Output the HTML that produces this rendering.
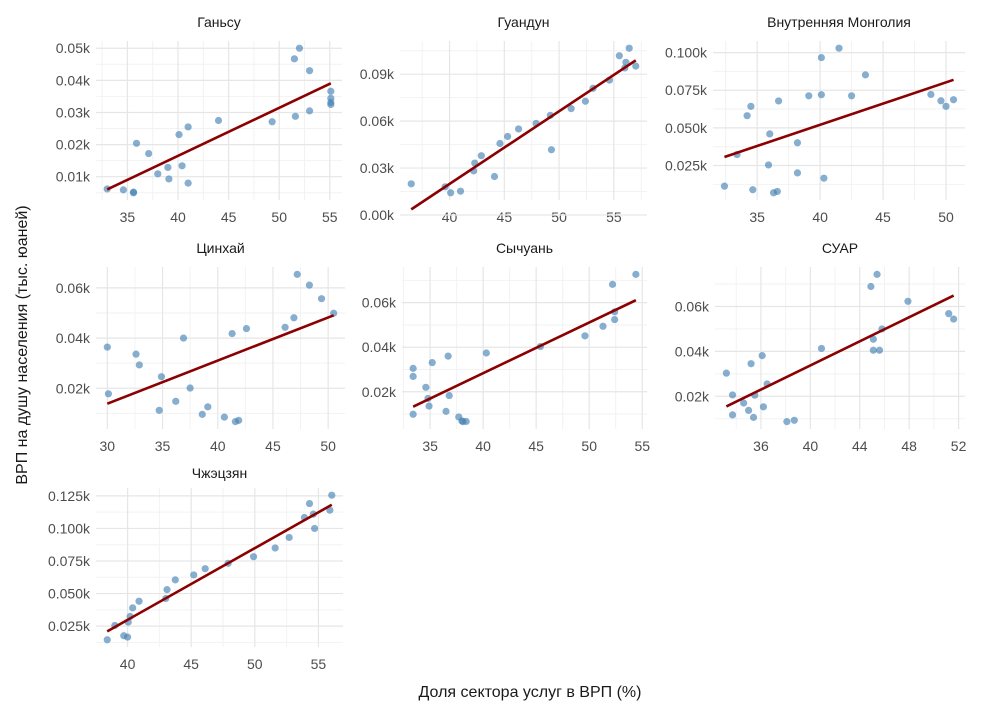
<!DOCTYPE html>
<html><head><meta charset="utf-8">
<style>
body{margin:0;background:#fff;}
svg{display:block;font-family:"Liberation Sans",sans-serif;}
.tick{fill:#4d4d4d;font-size:14px;}
.strip{fill:#1a1a1a;font-size:14px;}
.atitle{fill:#1a1a1a;font-size:16px;}
</style></head>
<body>
<svg id="chart" width="993" height="710"></svg>
<script>
const panelNames = ["Ганьсу","Гуандун","Внутренняя Монголия","Цинхай","Сычуань","СУАР","Чжэцзян"];
const xGansu = [33.0,34.6,35.6,35.6,35.9,37.1,38.0,39.0,39.1,40.1,40.4,41.0,41.0,44.0,49.3,51.5,52.0,51.6,53.0,53.0,55.1,55.1,55.1,55.1];
const yGansu = [0.0062,0.0059,0.0050,0.0052,0.0204,0.0172,0.0109,0.0129,0.0093,0.0231,0.0134,0.0255,0.0080,0.0275,0.0271,0.0467,0.0500,0.0288,0.0305,0.0430,0.0366,0.0344,0.0331,0.0325];
const xGuangdong = [36.5,39.6,40.1,41.0,42.2,42.3,42.9,44.1,44.6,45.3,46.3,47.9,49.2,49.3,51.1,52.4,53.1,54.6,55.5,56.0,56.1,56.4,57.0];
const yGuangdong = [0.0199,0.018,0.0142,0.0152,0.0282,0.0332,0.0379,0.0246,0.0457,0.0502,0.055,0.0585,0.0637,0.0417,0.068,0.0727,0.081,0.0862,0.1018,0.094,0.0976,0.1066,0.0952];
const xMongolia = [32.4,33.4,34.2,34.5,34.65,35.9,36.0,36.3,36.6,36.7,38.2,38.2,39.1,40.1,40.1,40.3,41.5,42.5,43.6,48.8,49.6,50.0,50.6];
const yMongolia = [0.0113,0.0323,0.0581,0.0643,0.0089,0.0254,0.046,0.0069,0.0078,0.0679,0.0401,0.0201,0.0713,0.0967,0.072,0.0166,0.1029,0.0713,0.0852,0.0722,0.068,0.0643,0.0687];
const xQinghai = [30.0,30.1,32.6,32.9,34.7,34.9,36.2,36.9,37.5,38.6,39.1,40.6,41.3,41.6,41.9,42.6,46.1,46.9,47.2,48.3,49.4,50.5];
const yQinghai = [0.0364,0.0178,0.0336,0.0293,0.0112,0.0246,0.0148,0.04,0.0201,0.0096,0.0126,0.0085,0.0418,0.0067,0.0072,0.0438,0.0443,0.0481,0.0654,0.0611,0.0557,0.0499];
const xSichuan = [33.4,33.4,33.4,34.6,34.8,34.9,35.2,36.5,36.7,36.8,37.7,38.0,38.1,38.4,40.3,45.4,49.6,51.3,52.2,52.4,52.4,54.4];
const ySichuan = [0.0305,0.0269,0.0099,0.022,0.017,0.0136,0.0331,0.0112,0.036,0.0183,0.0087,0.0069,0.0066,0.0067,0.0374,0.0403,0.0451,0.0494,0.0682,0.0524,0.0559,0.0727];
const xXinjiang = [33.2,33.7,33.7,34.6,35.0,35.2,35.4,35.5,36.1,36.2,36.5,38.1,38.7,40.9,44.9,45.1,45.1,45.4,45.6,45.8,47.9,51.2,51.6];
const yXinjiang = [0.0303,0.0206,0.0117,0.017,0.0137,0.0345,0.0106,0.0205,0.0381,0.0153,0.0255,0.0087,0.0093,0.0413,0.0689,0.0405,0.0454,0.0743,0.0405,0.05,0.0623,0.0568,0.0544];
const xZhejiang = [38.4,39.0,39.7,40.0,40.05,40.2,40.4,40.9,43.0,43.1,43.75,45.2,46.1,47.9,49.9,51.6,52.7,53.9,54.3,54.6,54.7,55.9,56.05];
const yZhejiang = [0.0145,0.0255,0.0176,0.0166,0.0281,0.0324,0.039,0.0441,0.0462,0.053,0.0605,0.0643,0.0691,0.0732,0.0783,0.085,0.0931,0.1084,0.1191,0.111,0.1,0.114,0.1255];
const xTicksAll = [[35,40,45,50,55],[40,45,50,55],[35,40,45,50],[30,35,40,45,50],[35,40,45,50,55],[36,40,44,48,52],[40,45,50,55]];
const yTicksAll = [[0.01,0.02,0.03,0.04,0.05],[0,0.03,0.06,0.09],[0.025,0.05,0.075,0.1],[0.02,0.04,0.06],[0.02,0.04,0.06],[0.02,0.04,0.06],[0.025,0.05,0.075,0.1,0.125]];
const yDecimals = [2,2,3,2,2,2,3];

const xsAll=[xGansu,xGuangdong,xMongolia,xQinghai,xSichuan,xXinjiang,xZhejiang];
const ysAll=[yGansu,yGuangdong,yMongolia,yQinghai,ySichuan,yXinjiang,yZhejiang];
const boxes=[[96,41,342,200],[400,41,647,200],[713,41,965,200],[96,267,345,429],[402,267,647,429],[715,267,965,429],[96,488,343,647]];
const stripY=[27,27,27,253,253,253,478];
const NS="http://www.w3.org/2000/svg";
const svg=document.getElementById('chart');
function mk(tag,attrs,parent){const e=document.createElementNS(NS,tag);for(const k in attrs)e.setAttribute(k,attrs[k]);(parent||svg).appendChild(e);return e;}
function ext(a){const mn=Math.min(...a),mx=Math.max(...a),p=(mx-mn)*0.05;return [mn-p,mx+p];}

for(let i=0;i<7;i++){
  const xs=xsAll[i],ys=ysAll[i],[L,T,R,B]=boxes[i];
  const [x0,x1]=ext(xs),[y0,y1]=ext(ys);
  const sx=v=>L+(v-x0)/(x1-x0)*(R-L);
  const sy=v=>B-(v-y0)/(y1-y0)*(B-T);
  const g=mk('g',{});
  
  
  const xt=xTicksAll[i],yt=yTicksAll[i];
  const dx=xt[1]-xt[0],dy=yt[1]-yt[0];
  // minor grid
  for(let v=xt[0]-dx/2;v<=x1;v+=dx){if(v>=x0){const l=mk('line',{x1:sx(v),x2:sx(v),y1:T,y2:B,stroke:'#f2f2f2','stroke-width':1},g);}}
  for(let v=yt[0]-dy/2;v<=y1;v+=dy){if(v>=y0){const l=mk('line',{x1:L,x2:R,y1:sy(v),y2:sy(v),stroke:'#f2f2f2','stroke-width':1},g);}}
  xt.forEach(v=>{
    const l=mk('line',{x1:sx(v),x2:sx(v),y1:T,y2:B,stroke:'#e6e6e6','stroke-width':1.2},g);
    
    
    const t=mk('text',{x:sx(v),y:B+22,'text-anchor':'middle',class:'tick'},g);t.textContent=v;
    
    
  });
  yt.forEach(v=>{
    const l=mk('line',{x1:L,x2:R,y1:sy(v),y2:sy(v),stroke:'#e6e6e6','stroke-width':1.2},g);
    
    
    const t=mk('text',{x:L-6,y:sy(v)+5,'text-anchor':'end',class:'tick'},g);t.textContent=v.toFixed(yDecimals[i])+'k';
    
    
  });
  const st=mk('text',{x:(L+R)/2,y:stripY[i],'text-anchor':'middle',class:'strip'},g);st.textContent=panelNames[i];
  
  
  xs.forEach((x,j)=>{
    const c=mk('circle',{cx:sx(x),cy:sy(ys[j]),r:3.6,fill:'#4682b4','fill-opacity':0.65},g);
    
    
  });
  const n=xs.length,mx=xs.reduce((a,b)=>a+b)/n,my=ys.reduce((a,b)=>a+b)/n;
  let sxy=0,sxx=0;xs.forEach((x,j)=>{sxy+=(x-mx)*(ys[j]-my);sxx+=(x-mx)**2;});
  const b=sxy/sxx,a=my-b*mx,xa=Math.min(...xs),xb=Math.max(...xs);
  const ln=mk('line',{x1:sx(xa),y1:sy(a+b*xa),x2:sx(xb),y2:sy(a+b*xb),stroke:'#8b0000','stroke-width':2.6},g);
  
  
}
const xtl=mk('text',{x:530,y:697,'text-anchor':'middle',class:'atitle'});xtl.textContent='Доля сектора услуг в ВРП (%)';


const ytl=mk('text',{x:0,y:0,'text-anchor':'middle',class:'atitle',transform:'translate(27,345) rotate(-90)'});ytl.textContent='ВРП на душу населения (тыс. юаней)';


</script>
</body></html>
